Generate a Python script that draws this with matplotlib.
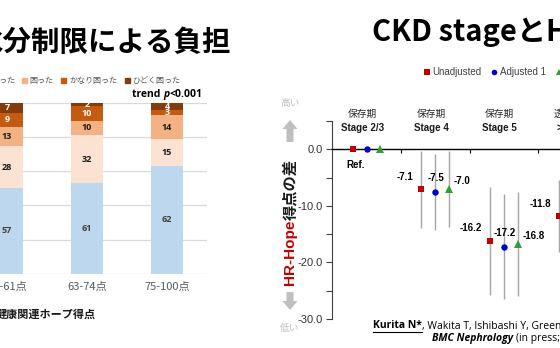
import numpy as np
import matplotlib
matplotlib.use("Agg")
import matplotlib.pyplot as plt
from matplotlib.patches import Rectangle, FancyArrow
from matplotlib.lines import Line2D
from matplotlib.transforms import IdentityTransform
from matplotlib.ticker import FormatStrFormatter

plt.rcParams['axes.unicode_minus'] = False
plt.rcParams['font.family'] = ['Liberation Sans', 'Noto Sans CJK JP']

W, H = 560, 348
JP = ['Noto Sans CJK JP']
LEFT = ['Open Sans', 'Noto Sans CJK JP']
RIGHT = ['Liberation Sans', 'Noto Sans CJK JP']

# --- left chart: burden of fluid restriction by hope score (counts) ---
score_groups = ["12-61点", "63-74点", "75-100点"]
burden_levels = ["困らなかった", "少し困った", "困った", "かなり困った", "ひどく困った"]
not_troubled = [57, 61, 62]
a_little = [28, 32, 15]
troubled = [13, 10, 14]
quite = [9, 10, 3]
severe = [7, 2, 4]

# --- right chart: HR-Hope difference by CKD stage ---
ckd_phase = ["保存期", "保存期", "保存期", "透析期"]
ckd_stage = ["Stage 2/3", "Stage 4", "Stage 5", "> 0年"]
unadj = [0.0, -7.1, -16.2, -11.8]
unadj_lo = [np.nan, -13.9, -25.7, -18.2]
unadj_hi = [np.nan, -0.3, -6.7, -5.4]
adj1 = [0.0, -7.5, -17.2, np.nan]
adj1_lo = [np.nan, -14.2, -26.5, np.nan]
adj1_hi = [np.nan, -0.8, -7.9, np.nan]
adj2 = [0.0, -7.0, -16.8, np.nan]
adj2_lo = [np.nan, -13.7, -26.0, np.nan]
adj2_hi = [np.nan, -0.3, -7.6, np.nan]
model_names = ["Unadjusted", "Adjusted 1", "Adjusted 2"]


def fx(px):
    return px / W


def fy(py):
    return 1 - py / H


fig = plt.figure(figsize=(5.6, 3.48), dpi=100, facecolor='white')
rend = fig.canvas.get_renderer()


def right_px(t):
    return t.get_window_extent(rend).x1


# ---------------- left panel ----------------
fig.text(fx(231), fy(43), "水分制限による負担", ha='right', va='center',
         fontsize=20.5, fontweight='bold', family=JP)

ax1 = fig.add_axes([fx(-33), fy(273.7), 240 / W, 171 / H])
bar_colors = ['#BDD7EE', '#FBE2D3', '#F4B183', '#C55A11', '#843C0C']
label_colors = ['#404040', '#1a1a1a', '#1a1a1a', 'white', 'white']
counts = np.array([not_troubled, a_little, troubled, quite, severe], dtype=float)
shares = counts / counts.sum(axis=0) * 100
xb = np.arange(len(score_groups))
bottom = np.zeros(len(score_groups))
for i in range(len(burden_levels)):
    bars = ax1.bar(xb, shares[i], 0.4, bottom=bottom, color=bar_colors[i], zorder=2)
    ax1.bar_label(bars, labels=[str(int(v)) for v in counts[i]], label_type='center',
                  color=label_colors[i], fontsize=6.5, fontweight='bold', family=LEFT)
    bottom += shares[i]
ax1.set_xlim(-0.5, 2.5)
ax1.set_ylim(0, 100)
ax1.set_yticks(range(0, 101, 20))
ax1.yaxis.grid(True, color='#d9d9d9', lw=0.9)
ax1.set_axisbelow(True)
for s in ax1.spines.values():
    s.set_visible(False)
ax1.tick_params(axis='y', left=False, labelleft=False)
ax1.set_xticks(xb, score_groups)
ax1.tick_params(axis='x', length=0, pad=6, labelsize=8, labelcolor='#595959')
for lab in ax1.get_xticklabels():
    lab.set_family(JP)

fig.text(fx(-4), fy(314), "健康関連ホープ得点", ha='left', va='center',
         fontsize=8, fontweight='bold', family=JP, color='#1a1a1a')

# legend row (first entries run off the left edge)
sq = 5
x = 21.5
for lab, col in zip(burden_levels[2:], bar_colors[2:]):
    fig.add_artist(Rectangle((fx(x), fy(80 + sq / 2)), sq / W, sq / H,
                             transform=fig.transFigure, color=col))
    t = fig.text(fx(x + 8), fy(80), lab, va='center', fontsize=5.8,
                 color='#595959', family=JP)
    x = right_px(t) + 7.5
x = 21.5
for lab, col in zip(burden_levels[1::-1], bar_colors[1::-1]):
    t = fig.text(fx(x - 5.5), fy(80), lab, ha='right', va='center', fontsize=5.8,
                 color='#595959', family=JP)
    x = t.get_window_extent(rend).x0 - 8
    fig.add_artist(Rectangle((fx(x), fy(80 + sq / 2)), sq / W, sq / H,
                             transform=fig.transFigure, color=col))
    x -= 7.5

t = fig.text(fx(132), fy(94), "trend ", va='center', fontsize=7.5, fontweight='bold', family=LEFT)
t = fig.text(right_px(t) / W, fy(94), "p", va='center', fontsize=7.5, fontweight='bold',
             fontstyle='italic', family=LEFT)
fig.text(right_px(t) / W, fy(94), "<0.001", va='center', fontsize=7.5, fontweight='bold', family=LEFT)

# ---------------- right panel ----------------
fig.text(fx(372), fy(32), "CKD stageとHR-Hope得点", ha='left', va='center',
         fontsize=21, fontweight='bold', family=JP)

ax2 = fig.add_axes([fx(332.3), fy(319), 68.6 * 4 / W, 198 / H])
xg = np.arange(len(ckd_stage))
series = [
    (unadj, unadj_lo, unadj_hi, 's', '#C00000', 4.6, -0.2, 'right', (-5.5, 9)),
    (adj1, adj1_lo, adj1_hi, 'o', '#0000CC', 4.6, 0.0, 'center', (0.5, 10)),
    (adj2, adj2_lo, adj2_hi, '^', '#2E9E3A', 5.2, 0.2, 'left', (3.6, 6)),
]
for vals, lo, hi, mk, col, ms, dx, ha, off in series:
    vals = np.array(vals)
    err = np.vstack([vals - np.array(lo), np.array(hi) - vals])
    ax2.errorbar(xg + dx, vals, yerr=err, fmt=mk, color=col, ms=ms, mew=0,
                 ecolor='#a6a6a6', elinewidth=1, capsize=1.5, capthick=1, zorder=3,
                 clip_on=False)
    for xi, v in zip(xg[1:], vals[1:]):
        if not np.isnan(v):
            ax2.annotate(f"{v:.1f}", (xi + dx, v), xytext=off, textcoords='offset points',
                         ha=ha, va='center', fontsize=7, fontweight='bold', family=RIGHT)

ax2.text(-0.3, -2.8, "Ref.", ha='left', va='center', fontsize=7, fontweight='bold', family=RIGHT)
for i in xg:
    ax2.text(i - 0.06, 6.25, ckd_phase[i], ha='center', va='center', fontsize=7,
             color='#262626', family=JP, clip_on=False)
    ax2.text(i - 0.06, 3.75, ckd_stage[i], ha='center', va='center', fontsize=7,
             fontweight='bold', color='#1a1a1a', family=RIGHT, clip_on=False)

ax2.set_xlim(-0.5, len(ckd_stage) - 0.5)
ax2.set_ylim(-30, 5)
ax2.spines['top'].set_visible(False)
ax2.spines['right'].set_visible(False)
ax2.spines['bottom'].set_position(('data', 0))
ax2.spines['bottom'].set_color('black')
ax2.spines['bottom'].set_linewidth(1)
ax2.spines['left'].set_color('#404040')
ax2.spines['left'].set_linewidth(0.8)
ax2.set_xticks(xg[:-1] + 0.5)
ax2.tick_params(axis='x', length=3, width=0.8, labelbottom=False)
ax2.set_yticks([0, -10, -20, -30])
ax2.set_yticks([5, -5, -15, -25], minor=True)
ax2.yaxis.set_major_formatter(FormatStrFormatter('%.1f'))
ax2.tick_params(axis='y', which='both', length=4, width=0.8, color='#404040',
                labelsize=8, labelcolor='#333333', pad=3)

# y label in two colours
t = fig.text(fx(290), fy(285), "HR-Hope", rotation=90, ha='center', va='bottom',
             fontsize=11, fontweight='bold', color='#C00000', family=RIGHT)
fig.text(fx(290), t.get_window_extent(rend).y1 / H, "得点の差", rotation=90, ha='center',
         va='bottom', fontsize=11, fontweight='bold', color='#1a1a1a', family=JP)

# higher / lower arrows
arrow_kw = dict(width=7, head_width=15, head_length=9, length_includes_head=True,
                transform=IdentityTransform(), color='#bfbfbf', lw=0)
fig.add_artist(FancyArrow(290, H - 142, 0, 22, **arrow_kw))
fig.add_artist(FancyArrow(290, H - 292, 0, -18, **arrow_kw))
fig.text(fx(290), fy(103), "高い", ha='center', va='center', fontsize=7, color='#bfbfbf', family=JP)
fig.text(fx(290), fy(328), "低い", ha='center', va='center', fontsize=7, color='#bfbfbf', family=JP)

# legend row
mk_x = 426.7
for lab, (_, _, _, mk, col, ms, _, _, _) in zip(model_names, series):
    fig.add_artist(Line2D([fx(mk_x)], [fy(72)], marker=mk, color=col, ms=ms - 0.6, mew=0,
                          transform=fig.transFigure))
    t = fig.text(fx(mk_x + 5.5), fy(72), lab, va='center', fontsize=7, color='#404040', family=RIGHT)
    mk_x = right_px(t) + 13

# citation
t = fig.text(fx(372.7), fy(326), "Kurita N*", va='center', fontsize=7.5, fontweight='bold',
             family=LEFT)
bb = t.get_window_extent(rend)
fig.add_artist(Line2D([bb.x0 / W, bb.x1 / W], [fy(331.5), fy(331.5)], color='black', lw=0.8,
                      transform=fig.transFigure))
fig.text(bb.x1 / W, fy(326), ", Wakita T, Ishibashi Y, Green J, Fukuhara S", va='center',
         fontsize=7.5, family=LEFT)
t = fig.text(fx(431.7), fy(338), "BMC Nephrology ", va='center', fontsize=7.5, fontweight='bold',
             fontstyle='italic', family=LEFT)
fig.text(right_px(t) / W, fy(338), "(in press; 2019)", va='center', fontsize=7.5, family=LEFT)

fig.savefig("out.png", dpi=100)
